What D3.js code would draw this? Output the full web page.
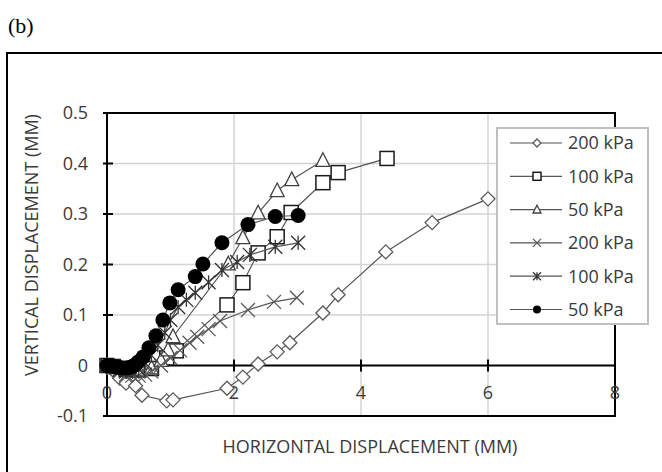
<!DOCTYPE html>
<html><head><meta charset="utf-8">
<script src="https://cdn.jsdelivr.net/npm/d3@7"></script>
<style>html,body{margin:0;padding:0;background:#fff;}svg{display:block;}</style>
</head><body>
<svg id="chart" width="662" height="472"></svg>
<script>
// ---- data ----
const xTicks = [0, 2, 4, 6, 8];
const yTicks = [-0.1, 0, 0.1, 0.2, 0.3, 0.4, 0.5];
const yTickLabels = ["-0.1", "0", "0.1", "0.2", "0.3", "0.4", "0.5"];
const seriesNames = ["200 kPa", "100 kPa", "50 kPa", "200 kPa", "100 kPa", "50 kPa"];
const seriesMarkers = ["diamond", "square", "triangle", "x", "star", "circle"];

const diamond200X = [0, 0.1, 0.2, 0.3, 0.45, 0.55, 0.94, 1.04, 1.89, 2.14, 2.38, 2.68, 2.88, 3.40, 3.64, 4.39, 5.12, 6.0];
const diamond200Y = [0, -0.01, -0.025, -0.035, -0.04, -0.059, -0.07, -0.068, -0.045, -0.023, 0.003, 0.027, 0.045, 0.104, 0.140, 0.225, 0.283, 0.330];

const square100X = [0, 0.1, 0.3, 0.5, 0.7, 0.94, 1.09, 1.89, 2.14, 2.38, 2.68, 2.90, 3.40, 3.64, 4.41];
const square100Y = [0, -0.002, -0.008, -0.009, -0.006, 0.015, 0.029, 0.120, 0.164, 0.223, 0.255, 0.303, 0.362, 0.382, 0.410];

const tri50X = [0, 0.1, 0.3, 0.5, 0.7, 0.85, 0.96, 1.04, 1.91, 2.14, 2.38, 2.68, 2.91, 3.40];
const tri50Y = [0, -0.003, -0.008, -0.01, -0.005, 0.01, 0.031, 0.057, 0.201, 0.253, 0.302, 0.346, 0.368, 0.406];

const x200X = [0, 0.1, 0.2, 0.3, 0.4, 0.5, 0.6, 0.7, 0.85, 1.0, 1.15, 1.3, 1.42, 1.6, 1.78, 2.22, 2.63, 2.99];
const x200Y = [0, -0.005, -0.012, -0.018, -0.02, -0.02, -0.018, -0.012, 0.0, 0.015, 0.03, 0.045, 0.057, 0.072, 0.088, 0.110, 0.126, 0.134];

const star100X = [0, 0.1, 0.2, 0.3, 0.4, 0.5, 0.6, 0.7, 0.8, 0.91, 1.0, 1.12, 1.25, 1.39, 1.6, 1.81, 2.05, 2.25, 2.65, 3.01];
const star100Y = [0, -0.003, -0.008, -0.012, -0.012, -0.008, 0.005, 0.02, 0.04, 0.065, 0.09, 0.116, 0.13, 0.144, 0.165, 0.189, 0.205, 0.219, 0.235, 0.243];

const circ50X = [0, 0.05, 0.1, 0.15, 0.2, 0.25, 0.3, 0.35, 0.4, 0.45, 0.49, 0.57, 0.66, 0.77, 0.88, 0.99, 1.12, 1.39, 1.51, 1.81, 2.22, 2.65, 3.01];
const circ50Y = [0, 0, -0.002, -0.003, -0.004, -0.005, -0.005, -0.004, -0.002, 0.002, 0.007, 0.017, 0.035, 0.059, 0.090, 0.124, 0.150, 0.176, 0.201, 0.243, 0.279, 0.295, 0.297];

const seriesX = [diamond200X, square100X, tri50X, x200X, star100X, circ50X];
const seriesY = [diamond200Y, square100Y, tri50Y, x200Y, star100Y, circ50Y];

// ---- drawing ----
const svg = d3.select("#chart");
const FONT = "'Open Sans', 'Noto Sans', sans-serif";
const TXT = "#3a3a3a";
const x = d3.scaleLinear().domain([0, 8]).range([107, 615]);
const y = d3.scaleLinear().domain([-0.1, 0.5]).range([416, 113]);

svg.append("text").attr("x", 8).attr("y", 33).attr("font-family", "'Liberation Serif', serif")
  .attr("font-size", 22).attr("fill", "#000").text("(b)");

svg.append("rect").attr("x", 7).attr("y", 53).attr("width", 700).attr("height", 460)
  .attr("fill", "none").attr("stroke", "#000").attr("stroke-width", 2);

// gridlines
svg.append("g").selectAll("line").data(yTicks.filter(v => v > 0 && v < 0.5)).join("line")
  .attr("x1", x(0)).attr("x2", x(8)).attr("y1", d => y(d)).attr("y2", d => y(d))
  .attr("stroke", "#d4d4d4").attr("stroke-width", 1.5);
svg.append("g").selectAll("line").data(xTicks.filter(v => v > 0 && v < 8)).join("line")
  .attr("y1", y(-0.1)).attr("y2", y(0.5)).attr("x1", d => x(d)).attr("x2", d => x(d))
  .attr("stroke", "#d4d4d4").attr("stroke-width", 1.5);

// plot border
svg.append("rect").attr("x", x(0)).attr("y", y(0.5)).attr("width", x(8) - x(0)).attr("height", y(-0.1) - y(0.5))
  .attr("fill", "none").attr("stroke", "#000").attr("stroke-width", 2);

// axes lines through zero
svg.append("line").attr("x1", x(0)).attr("x2", x(8)).attr("y1", y(0)).attr("y2", y(0))
  .attr("stroke", "#000").attr("stroke-width", 2);
svg.append("line").attr("x1", x(0)).attr("x2", x(0)).attr("y1", y(-0.1)).attr("y2", y(0.5))
  .attr("stroke", "#000").attr("stroke-width", 2);
svg.append("g").selectAll("line").data(xTicks).join("line")
  .attr("x1", d => x(d)).attr("x2", d => x(d)).attr("y1", y(0) - 6).attr("y2", y(0) + 6)
  .attr("stroke", "#000").attr("stroke-width", 2);
svg.append("g").selectAll("line").data(yTicks).join("line")
  .attr("x1", x(0) - 4).attr("x2", x(0) + 6).attr("y1", d => y(d)).attr("y2", d => y(d))
  .attr("stroke", "#000").attr("stroke-width", 2);

// tick labels
svg.append("g").selectAll("text").data(yTicks).join("text")
  .attr("x", 88).attr("y", d => y(d)).attr("dy", "0.35em").attr("text-anchor", "end")
  .attr("font-family", FONT).attr("font-size", 18).attr("fill", TXT)
  .text((d, i) => yTickLabels[i]);
svg.append("g").selectAll("text").data(xTicks).join("text")
  .attr("x", d => x(d)).attr("y", y(0) + 27).attr("dy", "0.35em").attr("text-anchor", "middle")
  .attr("font-family", FONT).attr("font-size", 18).attr("fill", TXT)
  .text(d => d);

// axis titles
svg.append("text").attr("x", 370).attr("y", 447).attr("dy", "0.35em").attr("text-anchor", "middle")
  .attr("font-family", FONT).attr("font-size", 18).attr("fill", TXT)
  .text("HORIZONTAL DISPLACEMENT (MM)");
svg.append("text").attr("transform", "translate(32,245) rotate(-90)").attr("dy", "0.35em").attr("text-anchor", "middle")
  .attr("font-family", FONT).attr("font-size", 18).attr("fill", TXT)
  .text("VERTICAL DISPLACEMENT (MM)");

// markers
const lineCol = "#555";
function drawMarker(g, type, cx, cy, s) {
  const h = s / 2;
  if (type === "diamond") {
    g.append("path").attr("d", `M${cx},${cy - h}L${cx + h},${cy}L${cx},${cy + h}L${cx - h},${cy}Z`)
      .attr("fill", "#fff").attr("stroke", "#595959").attr("stroke-width", 1.3);
  } else if (type === "square") {
    g.append("rect").attr("x", cx - h).attr("y", cy - h).attr("width", s).attr("height", s)
      .attr("fill", "#fff").attr("stroke", "#1a1a1a").attr("stroke-width", 1.5);
  } else if (type === "triangle") {
    g.append("path").attr("d", `M${cx},${cy - h * 1.1}L${cx + h},${cy + h * 0.85}L${cx - h},${cy + h * 0.85}Z`)
      .attr("fill", "#fff").attr("stroke", "#404040").attr("stroke-width", 1.3);
  } else if (type === "x") {
    g.append("path").attr("d", `M${cx - h},${cy - h}L${cx + h},${cy + h}M${cx - h},${cy + h}L${cx + h},${cy - h}`)
      .attr("stroke", "#595959").attr("stroke-width", 1.3).attr("fill", "none");
  } else if (type === "star") {
    g.append("path").attr("d", `M${cx - h},${cy - h}L${cx + h},${cy + h}M${cx - h},${cy + h}L${cx + h},${cy - h}M${cx},${cy - h}L${cx},${cy + h}`)
      .attr("stroke", "#333").attr("stroke-width", 1.3).attr("fill", "none");
  } else if (type === "circle") {
    g.append("circle").attr("cx", cx).attr("cy", cy).attr("r", h).attr("fill", "#000");
  }
}

const line = d3.line().x(d => x(d[0])).y(d => y(d[1]));
seriesX.forEach((xs, si) => {
  const pts = xs.map((v, i) => [v, seriesY[si][i]]);
  const g = svg.append("g");
  g.append("path").datum(pts).attr("d", line).attr("fill", "none").attr("stroke", lineCol).attr("stroke-width", 1.2);
  pts.forEach(p => drawMarker(g, seriesMarkers[si], x(p[0]), y(p[1]), seriesMarkers[si] === "circle" ? 15 : 14));
});

// legend
const lg = svg.append("g");
lg.append("rect").attr("x", 497).attr("y", 128).attr("width", 151).attr("height", 196)
  .attr("fill", "#fff").attr("stroke", "#bfbfbf").attr("stroke-width", 2);
seriesNames.forEach((name, i) => {
  const ly = 143 + i * 33.3;
  lg.append("line").attr("x1", 510).attr("x2", 562).attr("y1", ly).attr("y2", ly)
    .attr("stroke", lineCol).attr("stroke-width", 1.2);
  drawMarker(lg, seriesMarkers[i], 537, ly, 8);
  lg.append("text").attr("x", 568).attr("y", ly).attr("dy", "0.35em")
    .attr("font-family", FONT).attr("font-size", 18).attr("fill", TXT).text(name);
});
</script>
</body></html>
